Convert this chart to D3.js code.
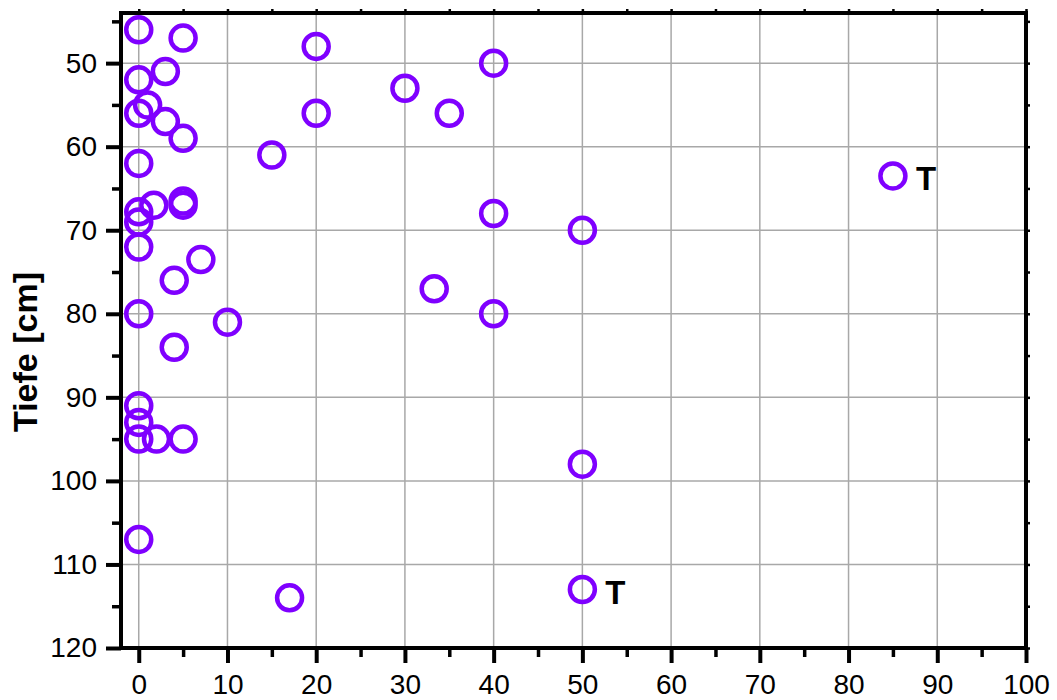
<!DOCTYPE html>
<html>
<head>
<meta charset="utf-8">
<script src="https://cdn.jsdelivr.net/npm/d3@7"></script>
<style>
  body { margin: 0; background: #fff; }
  svg { display: block; font-family: "Liberation Sans", Arial, sans-serif; }
</style>
</head>
<body>
<svg id="chart" width="1057" height="700"></svg>
<script>
// share (x) against depth in cm (y), one entry per sample
var shares = [0, 5, 20, 40, 3, 0, 1, 0, 3, 20, 35, 30, 5, 15, 0, 85, 5, 5, 1.7, 0,
              0, 40, 50, 0, 7, 4, 33.3, 40, 0, 10, 4, 0, 0, 0, 2, 5, 50, 0, 17, 50];
var depths = [46, 47, 48, 50, 51, 52, 55, 56, 57, 56, 56, 53, 59, 61, 62, 63.5, 66.5, 67, 67, 67.8,
              69, 68, 70, 72, 73.5, 76, 77, 80, 80, 81, 84, 91, 93, 95, 95, 95, 98, 107, 114, 113];
var marks = ['', '', '', '', '', '', '', '', '', '', '', '', '', '', '', 'T', '', '', '', '',
             '', '', '', '', '', '', '', '', '', '', '', '', '', '', '', '', '', '', '', 'T'];

var xTicks = [0, 10, 20, 30, 40, 50, 60, 70, 80, 90, 100];
var xMinor = [5, 15, 25, 35, 45, 55, 65, 75, 85, 95];
var yTicks = [50, 60, 70, 80, 90, 100, 110, 120];
var yMinor = [45, 55, 65, 75, 85, 95, 105, 115];
var yTitle = 'Tiefe [cm]';

var svg = d3.select('#chart');
var box = { left: 121, right: 1026, top: 13, bottom: 648 };

var x = d3.scaleLinear().domain([-2, 100]).range([box.left, box.right]);
var y = d3.scaleLinear().domain([44, 120]).range([box.top, box.bottom]);

// grid
var grid = svg.append('g').attr('stroke', '#a8a8a8').attr('stroke-width', 1.5);
grid.selectAll('line.v').data(xTicks.slice(0, -1)).enter().append('line')
  .attr('x1', function(d) { return x(d); }).attr('x2', function(d) { return x(d); })
  .attr('y1', box.top).attr('y2', box.bottom);
grid.selectAll('line.h').data(yTicks.slice(0, -1)).enter().append('line')
  .attr('y1', function(d) { return y(d); }).attr('y2', function(d) { return y(d); })
  .attr('x1', box.left).attr('x2', box.right);

function styleAxis(g, width) {
  g.select('.domain').remove();
  g.selectAll('.tick line').attr('stroke', '#000').attr('stroke-width', width);
  g.selectAll('.tick text').attr('fill', '#000').attr('font-size', 28)
    .attr('font-family', '"Liberation Sans", Arial, sans-serif');
}

// bottom
svg.append('g').attr('transform', 'translate(0,' + box.bottom + ')')
  .call(d3.axisBottom(x).tickValues(xTicks).tickSize(15).tickPadding(11).tickFormat(d3.format('d')))
  .call(styleAxis, 4);
svg.append('g').attr('transform', 'translate(0,' + box.bottom + ')')
  .call(d3.axisBottom(x).tickValues(xMinor).tickSize(9).tickFormat(''))
  .call(styleAxis, 3.5);

// left
svg.append('g').attr('transform', 'translate(' + box.left + ',0)')
  .call(d3.axisLeft(y).tickValues(yTicks).tickSize(15).tickPadding(9).tickFormat(d3.format('d')))
  .call(styleAxis, 4);
svg.append('g').attr('transform', 'translate(' + box.left + ',0)')
  .call(d3.axisLeft(y).tickValues(yMinor).tickSize(9).tickFormat(''))
  .call(styleAxis, 3.5);

// top and right stubs
svg.append('g').attr('transform', 'translate(0,' + box.top + ')')
  .call(d3.axisTop(x).tickValues(xTicks.concat(xMinor)).tickSize(4).tickFormat(''))
  .call(styleAxis, 2.5);
svg.append('g').attr('transform', 'translate(' + box.right + ',0)')
  .call(d3.axisRight(y).tickValues(yTicks.concat(yMinor)).tickSize(4).tickFormat(''))
  .call(styleAxis, 2.5);

// frame
svg.append('rect')
  .attr('x', box.left).attr('y', box.top)
  .attr('width', box.right - box.left).attr('height', box.bottom - box.top)
  .attr('fill', 'none').attr('stroke', '#000').attr('stroke-width', 4);

// points
var pts = d3.range(shares.length);
svg.append('g').selectAll('circle').data(pts).enter().append('circle')
  .attr('cx', function(i) { return x(shares[i]); })
  .attr('cy', function(i) { return y(depths[i]); })
  .attr('r', 12.5)
  .attr('fill', 'none')
  .attr('stroke', '#7f00ff')
  .attr('stroke-width', 4.5);

svg.append('g').selectAll('text').data(pts.filter(function(i) { return marks[i]; })).enter()
  .append('text')
  .attr('x', function(i) { return x(shares[i]) + 23; })
  .attr('y', function(i) { return y(depths[i]); })
  .attr('dy', '0.44em')
  .attr('font-size', 33)
  .attr('font-weight', 'bold')
  .text(function(i) { return marks[i]; });

// y title
svg.append('text')
  .attr('transform', 'translate(36.5,352) rotate(-90)')
  .attr('text-anchor', 'middle')
  .attr('font-size', 34)
  .attr('font-weight', 'bold')
  .text(yTitle);
</script>
</body>
</html>
